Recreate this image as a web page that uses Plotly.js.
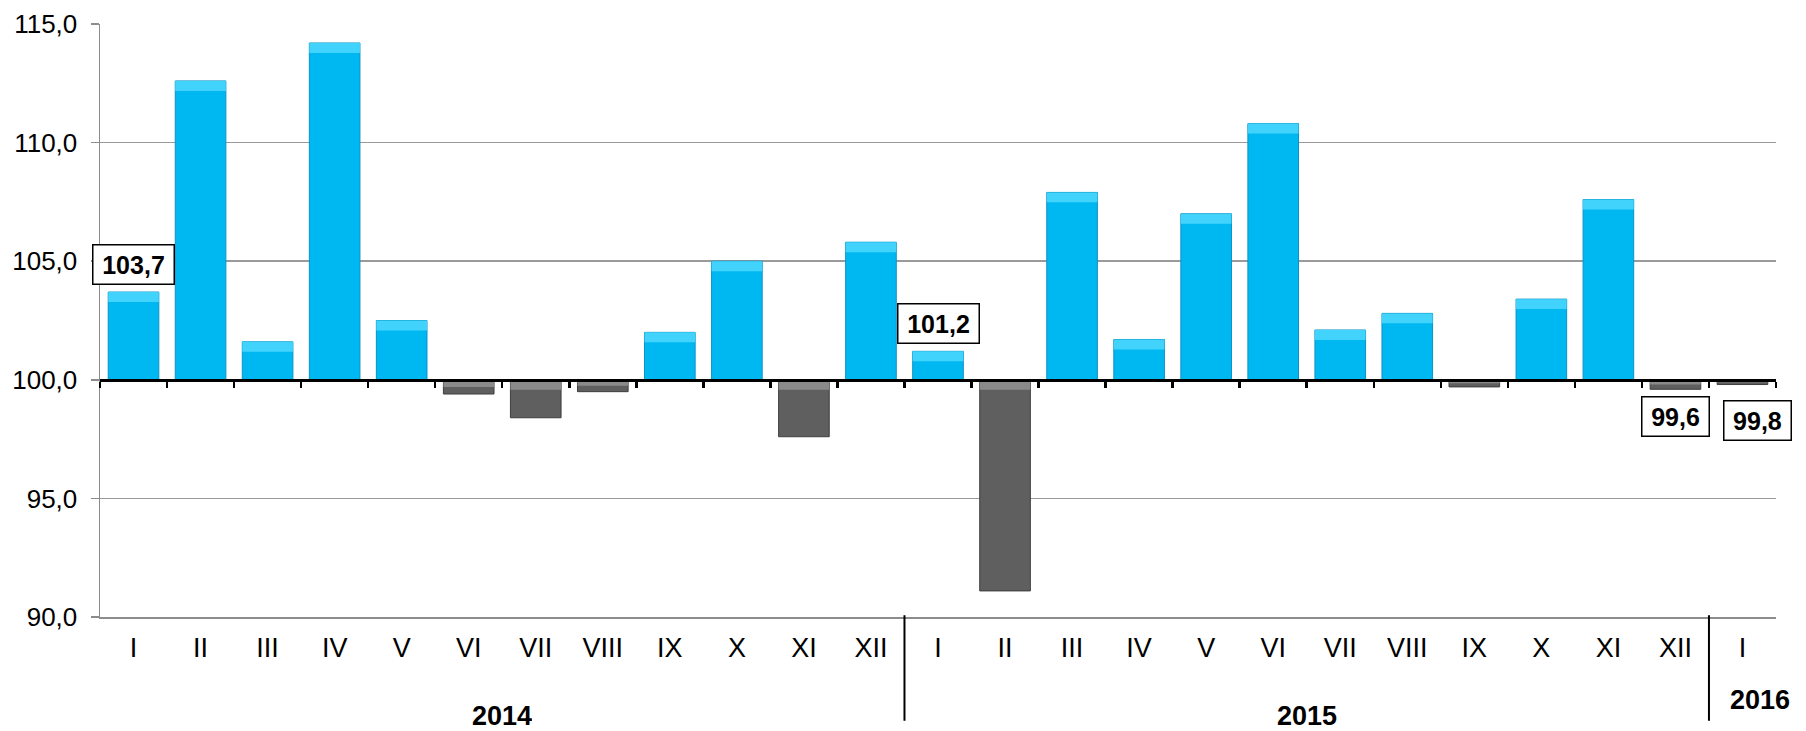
<!DOCTYPE html>
<html>
<head>
<meta charset="utf-8">
<script src="https://cdn.plot.ly/plotly-3.0.1.min.js"></script>
<style>
  html, body { margin: 0; padding: 0; background: #ffffff; }
  #chart { width: 1806px; height: 731px; }
</style>
</head>
<body>
<div id="chart"></div>
<script>
// ---- data ----
const months = ["I","II","III","IV","V","VI","VII","VIII","IX","X","XI","XII",
                "I","II","III","IV","V","VI","VII","VIII","IX","X","XI","XII",
                "I"];
const years = ["2014","2015","2016"];
const monthsPerYear = [12, 12, 1];
const values2014 = [103.7, 112.6, 101.6, 114.2, 102.5, 99.4, 98.4, 99.5, 102.0, 105.0, 97.6, 105.8];
const values2015 = [101.2, 91.1, 107.9, 101.7, 107.0, 110.8, 102.1, 102.8, 99.7, 103.4, 107.6, 99.6];
const values2016 = [99.8];
const baseLevel = 100;
const yTicks = [90, 95, 100, 105, 110, 115];
const labelled = [0, 12, 23, 24];   // bars whose value is shown in a box

// ---- derived ----
const values = values2014.concat(values2015, values2016);
const idx = values.map((v, i) => i);
const fmt = v => v.toFixed(1).replace('.', ',');

const FONT = "Liberation Sans, Arial, Helvetica, sans-serif";
const CYAN = "#00b8f1", CYAN_TOP = "#42d3fc", CYAN_EDGE = "#0a93c4";
const GREY = "#5f5f5f", GREY_TOP = "#8a8a8a", GREY_EDGE = "#3e3e3e";

const up = values.map(v => v >= baseLevel);

// main bars, drawn from the base level to the value
const mainBars = {
  type: "bar",
  x: idx,
  y: values.map(v => v - baseLevel),
  base: baseLevel,
  marker: {
    color: up.map(u => u ? CYAN : GREY),
    line: { color: up.map(u => u ? CYAN_EDGE : GREY_EDGE), width: 1 }
  },
  hoverinfo: "skip",
  showlegend: false
};

// light bevel strip at the top of every bar
const BEVEL = 0.42;
const bevelBars = {
  type: "bar",
  x: idx,
  y: values.map(v => Math.min(BEVEL, Math.abs(v - baseLevel) / 2)),
  base: values.map(v => v >= baseLevel ? v - Math.min(BEVEL, (v - baseLevel) / 2)
                                       : baseLevel - Math.min(BEVEL, (baseLevel - v) / 2)),
  marker: { color: up.map(u => u ? CYAN_TOP : GREY_TOP), line: { width: 0 } },
  hoverinfo: "skip",
  showlegend: false
};

// helper trace that instantiates the axis drawn at the 100 level
const axisHelper = {
  type: "scatter", mode: "lines",
  x: [-0.5, values.length - 0.5], y: [baseLevel, baseLevel],
  xaxis: "x2", yaxis: "y",
  line: { width: 0, color: "rgba(0,0,0,0)" },
  hoverinfo: "skip", showlegend: false
};

// value boxes
const annotations = labelled.map(i => {
  const v = values[i];
  const isUp = v >= baseLevel;
  const last = i === values.length - 1;
  const txt = fmt(v);
  return {
    x: i, y: v, xref: "x", yref: "y",
    text: "<b>" + txt + "</b>",
    showarrow: false,
    xanchor: "center",
    yanchor: isUp ? "bottom" : "top",
    yshift: isUp ? 7 : (last ? -15 : -7),
    xshift: last ? 15 : 0,
    font: { family: FONT, size: 25, color: "#000" },
    bgcolor: "#ffffff",
    bordercolor: "#000000",
    borderwidth: 1.5,
    borderpad: 2,
    width: 14 * txt.length + 6,
    height: 34
  };
});

// year labels and dividers
const shapes = [];
let start = 0;
years.forEach((yr, k) => {
  const n = monthsPerYear[k];
  const centre = start + (n - 1) / 2;
  const single = n === 1;
  annotations.push({
    x: centre, xref: "x", y: 0, yref: "paper",
    text: "<b>" + yr + "</b>", showarrow: false,
    xanchor: "center", yanchor: "middle",
    xshift: single ? 18 : 0,
    yshift: single ? -83 : -99,
    height: 30,
    font: { family: FONT, size: 27, color: "#000" }
  });
  if (k > 0) {
    shapes.push({
      type: "line", xref: "x", yref: "paper",
      x0: start - 0.5, x1: start - 0.5, y0: 0.003, y1: -0.175,
      line: { color: "#000000", width: 2 }
    });
  }
  start += n;
});

const boundaries = values.map((v, i) => i - 0.5).concat([values.length - 0.5]);

const layout = {
  width: 1806, height: 731,
  margin: { l: 100, r: 30, t: 24, b: 114, pad: 0 },
  paper_bgcolor: "#ffffff",
  plot_bgcolor: "#ffffff",
  separators: ", ",
  barmode: "overlay",
  bargap: 0.245,
  showlegend: false,
  font: { family: FONT, color: "#000" },
  xaxis: {
    type: "linear",
    range: [-0.5, values.length - 0.5],
    tickmode: "array",
    tickvals: idx,
    ticktext: months,
    ticks: "",
    showgrid: false,
    zeroline: false,
    showline: true,
    linecolor: "#8c8c8c",
    linewidth: 1.5,
    ticklabelstandoff: 6,
    tickfont: { family: FONT, size: 27, color: "#000" },
    fixedrange: true
  },
  xaxis2: {
    type: "linear",
    overlaying: "x",
    anchor: "free",
    position: (baseLevel - yTicks[0]) / (yTicks[yTicks.length - 1] - yTicks[0]),
    range: [-0.5, values.length - 0.5],
    tickmode: "array",
    tickvals: boundaries,
    ticks: "outside",
    ticklen: 6,
    tickwidth: 2.5,
    tickcolor: "#000000",
    showticklabels: false,
    showline: true,
    linecolor: "#000000",
    linewidth: 3.5,
    showgrid: false,
    zeroline: false,
    fixedrange: true
  },
  yaxis: {
    range: [yTicks[0], yTicks[yTicks.length - 1]],
    tickmode: "array",
    tickvals: yTicks,
    ticktext: yTicks.map(fmt),
    ticks: "outside",
    ticklen: 8,
    tickwidth: 1.5,
    tickcolor: "#8c8c8c",
    showgrid: true,
    gridcolor: "#9a9a9a",
    gridwidth: 1.5,
    zeroline: false,
    showline: true,
    linecolor: "#8c8c8c",
    linewidth: 1.5,
    ticklabelstandoff: 8,
    tickfont: { family: FONT, size: 26, color: "#000" },
    fixedrange: true
  },
  annotations: annotations,
  shapes: shapes
};

Plotly.newPlot("chart", [mainBars, bevelBars, axisHelper], layout,
               { displayModeBar: false, staticPlot: true });
</script>
</body>
</html>
